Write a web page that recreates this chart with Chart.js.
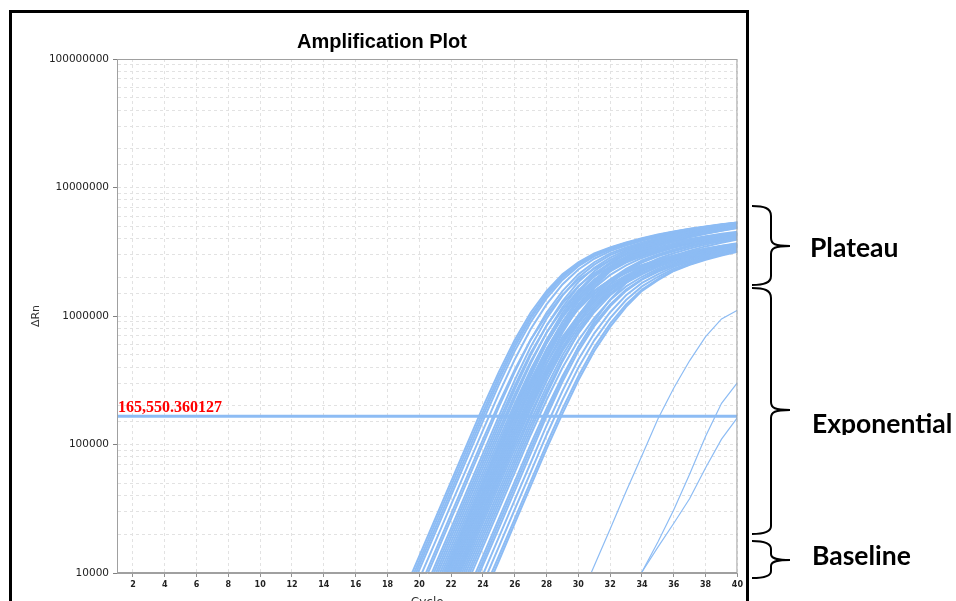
<!DOCTYPE html>
<html>
<head>
<meta charset="utf-8">
<title>Amplification Plot</title>
<script src="https://cdn.jsdelivr.net/npm/chart.js@4.4.1/dist/chart.umd.min.js"></script>
<style>
  html, body { margin: 0; padding: 0; background: #fff; width: 956px; height: 601px; overflow: hidden; }
  #frame { position: absolute; left: 9px; top: 10px; width: 734px; height: 640px; border: 3px solid #000; background: #fff; }
  #plot { display: block; }
  #notes { position: absolute; left: 0; top: 0; }
</style>
</head>
<body>
<div id="frame"><canvas id="plot" width="734" height="601"></canvas></div>

<svg id="notes" width="956" height="601" xmlns="http://www.w3.org/2000/svg">
  <defs>
    <clipPath id="cutExp"><rect x="800" y="380" width="156" height="55"/></clipPath>
  </defs>
  <g fill="none" stroke="#000" stroke-width="2">
    <path d="M752 206 C764 206 771 208 771 216 L771 238 C771 244 775 246 790 246 C775 246 771 248 771 254 L771 276 C771 283 764 285 752 285"/>
    <path d="M752 288 C764 288 771 290 771 298 L771 402 C771 408 775 410 790 410 C775 410 771 412 771 418 L771 526 C771 532 764 534 752 534"/>
    <path d="M752 541 C764 541 771 543 771 549 L771 554 C771 558 775 560 790 560 C775 560 771 562 771 566 L771 571 C771 576 764 578 752 578"/>
  </g>
  <g font-family="Lato" font-weight="bold" font-size="26.5" fill="#000">
    <text x="810" y="257">Plateau</text>
    <text x="812" y="433" clip-path="url(#cutExp)">Exponential</text>
    <text x="812" y="565">Baseline</text>
  </g>
</svg>

<script>
// ----------------------------
// data
// ----------------------------

const cycles = [19, 20, 21, 22, 23, 24, 25, 26, 27, 28, 29, 30, 31, 32, 33, 34, 35, 36, 37, 38, 39, 40];

const xTicks = [2, 4, 6, 8, 10, 12, 14, 16, 18, 20, 22, 24, 26, 28, 30, 32, 34, 36, 38, 40];
const yTickLabels = [10000, 100000, 1000000, 10000000, 100000000];

const threshold = 165550.360127;
const thresholdLabel = "165,550.360127";

// wells with Ct about 23.7 - 25.1
const earlyCurves = [
  [6970, 13500, 26400, 51500, 100300, 195000, 366000, 652000, 1060000, 1560000, 2110000, 2620000, 3070000, 3420000, 3740000, 4030000, 4300000, 4550000, 4780000, 4980000, 5180000, 5350000],
  [6420, 12400, 24300, 47400, 92400, 179000, 340000, 612000, 1000000, 1500000, 2050000, 2560000, 3020000, 3380000, 3700000, 4000000, 4270000, 4520000, 4750000, 4960000, 5150000, 5330000],
  [5870, 11500, 22300, 43600, 84900, 165600, 316000, 574000, 953000, 1440000, 1990000, 2510000, 2980000, 3340000, 3660000, 3960000, 4240000, 4490000, 4720000, 4930000, 5130000, 5310000],
  [5400, 10600, 20500, 40100, 78100, 152000, 291000, 533000, 894000, 1370000, 1910000, 2440000, 2910000, 3290000, 3620000, 3920000, 4200000, 4460000, 4690000, 4900000, 5100000, 5280000],
  [4570, 8960, 17400, 34000, 66100, 129000, 248000, 459000, 788000, 1230000, 1760000, 2300000, 2790000, 3200000, 3540000, 3850000, 4130000, 4390000, 4630000, 4850000, 5050000, 5240000],
  [3870, 7580, 14700, 28700, 55900, 109000, 208000, 382000, 652000, 1010000, 1460000, 1920000, 2330000, 2710000, 3010000, 3280000, 3540000, 3770000, 3980000, 4180000, 4360000, 4530000],
  [3560, 6970, 13500, 26400, 51500, 100300, 195000, 366000, 652000, 1060000, 1560000, 2110000, 2620000, 3070000, 3420000, 3740000, 4030000, 4300000, 4550000, 4780000, 4980000, 5180000],
  [3010, 5870, 11500, 22300, 43600, 84900, 165600, 316000, 574000, 953000, 1440000, 1990000, 2510000, 2980000, 3340000, 3660000, 3960000, 4240000, 4490000, 4720000, 4930000, 5130000],
  [2770, 5400, 10600, 20500, 40100, 78100, 152000, 287000, 515000, 840000, 1250000, 1710000, 2150000, 2530000, 2870000, 3150000, 3410000, 3660000, 3880000, 4090000, 4270000, 4440000]
];

// the dense group, Ct about 25.2 - 27.1
const denseCurves = [
  [2550, 4970, 9700, 18900, 36900, 71800, 140000, 269000, 494000, 839000, 1300000, 1840000, 2370000, 2850000, 3250000, 3580000, 3890000, 4170000, 4430000, 4660000, 4880000, 5080000],
  [2340, 4570, 8960, 17400, 34000, 66100, 129000, 245000, 443000, 741000, 1120000, 1580000, 2030000, 2430000, 2790000, 3080000, 3350000, 3600000, 3820000, 4030000, 4220000, 4400000],
  [2160, 4200, 8200, 16000, 31200, 60800, 118600, 229000, 426000, 740000, 1170000, 1690000, 2230000, 2730000, 3160000, 3500000, 3810000, 4100000, 4360000, 4600000, 4830000, 5030000],
  [1980, 3870, 7580, 14700, 28700, 55900, 109000, 208000, 382000, 652000, 1010000, 1460000, 1920000, 2330000, 2710000, 3010000, 3280000, 3540000, 3770000, 3980000, 4180000, 4360000],
  [1820, 3560, 6970, 13500, 26400, 51500, 100300, 195000, 366000, 652000, 1060000, 1560000, 2110000, 2620000, 3070000, 3420000, 3740000, 4030000, 4300000, 4550000, 4780000, 4980000],
  [1820, 3560, 6970, 13500, 26400, 51500, 100300, 192000, 354000, 613000, 969000, 1400000, 1860000, 2280000, 2670000, 2980000, 3260000, 3510000, 3750000, 3960000, 4160000, 4340000],
  [1680, 3280, 6420, 12400, 24300, 47400, 92400, 174000, 316000, 535000, 823000, 1180000, 1570000, 1900000, 2240000, 2500000, 2740000, 2960000, 3160000, 3350000, 3520000, 3680000],
  [1680, 3280, 6420, 12400, 24300, 47400, 92400, 179000, 340000, 612000, 1000000, 1500000, 2050000, 2560000, 3020000, 3380000, 3700000, 4000000, 4270000, 4520000, 4750000, 4960000],
  [1550, 3010, 5870, 11500, 22300, 43600, 84900, 165600, 312000, 554000, 896000, 1320000, 1780000, 2220000, 2600000, 2910000, 3190000, 3450000, 3690000, 3910000, 4110000, 4290000],
  [1550, 3010, 5870, 11500, 22300, 43600, 84900, 165600, 307000, 533000, 833000, 1190000, 1570000, 1920000, 2210000, 2470000, 2710000, 2930000, 3140000, 3330000, 3500000, 3650000],
  [1430, 2770, 5400, 10600, 20500, 40100, 78100, 152000, 291000, 533000, 894000, 1370000, 1910000, 2440000, 2910000, 3290000, 3620000, 3920000, 4200000, 4460000, 4690000, 4900000],
  [1430, 2770, 5400, 10600, 20500, 40100, 78100, 152000, 282000, 495000, 781000, 1130000, 1500000, 1860000, 2160000, 2440000, 2680000, 2900000, 3110000, 3300000, 3480000, 3630000],
  [1310, 2550, 4970, 9700, 18900, 36900, 71800, 140000, 265000, 477000, 789000, 1190000, 1650000, 2090000, 2480000, 2830000, 3120000, 3390000, 3630000, 3860000, 4060000, 4250000],
  [1310, 2550, 4970, 9700, 18900, 36900, 71800, 140000, 269000, 494000, 839000, 1300000, 1840000, 2370000, 2850000, 3250000, 3580000, 3890000, 4170000, 4430000, 4660000, 4880000],
  [1210, 2340, 4570, 8960, 17400, 34000, 66100, 129000, 241000, 426000, 689000, 1010000, 1390000, 1760000, 2070000, 2370000, 2620000, 2850000, 3060000, 3250000, 3430000, 3590000],
  [1210, 2340, 4570, 8960, 17400, 34000, 66100, 129000, 248000, 459000, 788000, 1230000, 1760000, 2300000, 2790000, 3200000, 3540000, 3850000, 4130000, 4390000, 4630000, 4850000],
  [1110, 2160, 4200, 8200, 16000, 31200, 60800, 118600, 229000, 426000, 740000, 1170000, 1690000, 2230000, 2730000, 3160000, 3500000, 3810000, 4100000, 4360000, 4600000, 4830000],
  [1110, 2160, 4200, 8200, 16000, 31200, 60800, 118600, 222000, 395000, 647000, 963000, 1330000, 1700000, 2020000, 2340000, 2590000, 2820000, 3040000, 3230000, 3410000, 3580000],
  [1020, 1980, 3870, 7580, 14700, 28700, 55900, 109000, 208000, 382000, 652000, 1010000, 1460000, 1920000, 2330000, 2710000, 3010000, 3280000, 3540000, 3770000, 3980000, 4180000],
  [1020, 1980, 3870, 7580, 14700, 28700, 55900, 109000, 205000, 367000, 607000, 914000, 1280000, 1660000, 1980000, 2300000, 2560000, 2790000, 3010000, 3210000, 3390000, 3560000],
  [939, 1820, 3560, 6970, 13500, 26400, 51500, 100300, 192000, 354000, 613000, 969000, 1400000, 1860000, 2280000, 2670000, 2980000, 3260000, 3510000, 3750000, 3960000, 4160000],
  [939, 1820, 3560, 6970, 13500, 26400, 51500, 100300, 189000, 340000, 570000, 872000, 1230000, 1610000, 1940000, 2270000, 2530000, 2770000, 2990000, 3190000, 3370000, 3540000],
  [865, 1680, 3280, 6420, 12400, 24300, 47400, 92400, 174000, 316000, 535000, 823000, 1180000, 1570000, 1900000, 2240000, 2500000, 2740000, 2960000, 3160000, 3350000, 3520000],
  [792, 1550, 3010, 5870, 11500, 22300, 43600, 84900, 165600, 312000, 554000, 896000, 1320000, 1780000, 2220000, 2600000, 2910000, 3190000, 3450000, 3690000, 3910000, 4110000],
  [729, 1430, 2770, 5400, 10600, 20500, 40100, 78100, 152000, 282000, 495000, 781000, 1130000, 1500000, 1860000, 2160000, 2440000, 2680000, 2900000, 3110000, 3300000, 3480000]
];

// later wells, Ct about 27.2 - 28.9
const lateCurves = [
  [670, 1310, 2550, 4970, 9700, 18900, 36900, 71800, 140000, 261000, 458000, 733000, 1070000, 1450000, 1810000, 2110000, 2410000, 2650000, 2880000, 3090000, 3280000, 3450000],
  [617, 1210, 2340, 4570, 8960, 17400, 34000, 66100, 129000, 245000, 443000, 741000, 1120000, 1580000, 2030000, 2430000, 2790000, 3080000, 3350000, 3600000, 3820000, 4030000],
  [567, 1110, 2160, 4200, 8200, 16000, 31200, 60800, 118600, 222000, 395000, 647000, 963000, 1330000, 1700000, 2020000, 2340000, 2590000, 2820000, 3040000, 3230000, 3410000],
  [480, 939, 1820, 3560, 6970, 13500, 26400, 51500, 100300, 189000, 340000, 570000, 872000, 1230000, 1610000, 1940000, 2270000, 2530000, 2770000, 2990000, 3190000, 3370000],
  [442, 865, 1680, 3280, 6420, 12400, 24300, 47400, 92400, 176000, 328000, 575000, 914000, 1340000, 1810000, 2230000, 2630000, 2940000, 3220000, 3480000, 3720000, 3940000],
  [406, 792, 1550, 3010, 5870, 11500, 22300, 43600, 84900, 165600, 307000, 533000, 833000, 1190000, 1570000, 1920000, 2210000, 2470000, 2710000, 2930000, 3140000, 3330000],
  [343, 670, 1310, 2550, 4970, 9700, 18900, 36900, 71800, 140000, 261000, 458000, 733000, 1070000, 1450000, 1810000, 2110000, 2410000, 2650000, 2880000, 3090000, 3280000],
  [291, 567, 1110, 2160, 4200, 8200, 16000, 31200, 60800, 118600, 222000, 395000, 647000, 963000, 1330000, 1700000, 2020000, 2340000, 2590000, 2820000, 3040000, 3230000],
  [246, 480, 939, 1820, 3560, 6970, 13500, 26400, 51500, 100300, 189000, 340000, 570000, 872000, 1230000, 1610000, 1940000, 2270000, 2530000, 2770000, 2990000, 3190000],
  [227, 442, 865, 1680, 3280, 6420, 12400, 24300, 47400, 92400, 174000, 316000, 535000, 823000, 1180000, 1570000, 1900000, 2240000, 2500000, 2740000, 2960000, 3160000]
];

// three wells that only come up at the end of the run
const slowCurves = [
  [null, null, null, null, null, null, null, null, null, null, null, 5900, 11400, 22000, 43000, 82000, 158000, 275000, 450000, 690000, 950000, 1110000],
  [null, null, null, null, null, null, null, null, null, null, null, null, null, null, 3000, 10200, 17400, 31000, 59000, 116000, 209000, 303000],
  [null, null, null, null, null, null, null, null, null, null, null, null, null, null, 3000, 10200, 15900, 24400, 38000, 66000, 110000, 162000]
];

// ----------------------------
// chart
// ----------------------------

const blue = "#8dbcf4";

function curve(values, width) {
  return {
    data: cycles.map((c, i) => ({ x: c, y: values[i] })),
    borderColor: blue,
    borderWidth: width,
    pointRadius: 0,
    fill: false,
    clip: 0
  };
}

const datasets = [{
  data: [{ x: 1, y: threshold }, { x: 40, y: threshold }],
  borderColor: blue,
  borderWidth: 3,
  pointRadius: 0,
  clip: 0
}];

earlyCurves.forEach(v => datasets.push(curve(v, 2)));
denseCurves.forEach(v => datasets.push(curve(v, 2)));
lateCurves.forEach(v => datasets.push(curve(v, 2)));
slowCurves.forEach(v => datasets.push(curve(v, 1.2)));

// plot frame + threshold value
const frameAndLabel = {
  id: "frameAndLabel",
  afterDatasetsDraw(chart) {
    const { ctx, chartArea: a, scales } = chart;
    ctx.save();
    ctx.strokeStyle = "#a0a0a0";
    ctx.lineWidth = 1;
    ctx.strokeRect(a.left + 0.5, a.top + 0.5, a.right - a.left - 1, a.bottom - a.top - 1);
    ctx.fillStyle = "#ff0000";
    ctx.font = "bold 16px 'Liberation Serif'";
    ctx.textBaseline = "alphabetic";
    ctx.fillText(thresholdLabel, a.left + 1, scales.y.getPixelForValue(threshold) - 4);
    ctx.restore();
  }
};

Chart.defaults.font.family = "'DejaVu Sans'";
Chart.defaults.color = "#333";

new Chart(document.getElementById("plot"), {
  type: "line",
  data: { datasets },
  options: {
    responsive: false,
    animation: false,
    events: [],
    layout: { padding: { left: 14, right: 8, top: 0, bottom: 0 } },
    plugins: {
      legend: { display: false },
      tooltip: { enabled: false },
      title: {
        display: true,
        text: "Amplification Plot",
        color: "#000",
        font: { family: "'Liberation Sans'", size: 20, weight: "bold" },
        padding: { top: 17, bottom: 5 }
      }
    },
    scales: {
      x: {
        type: "linear",
        min: 1,
        max: 40,
        afterBuildTicks: scale => { scale.ticks = xTicks.map(v => ({ value: v })); },
        afterFit: scale => { scale.height = 41; },
        ticks: { autoSkip: false, maxRotation: 0, padding: 3, font: { size: 8, weight: "bold" }, color: "#222" },
        grid: { color: "#e2e2e2", tickColor: "#909090", tickLength: 4 },
        border: { color: "#a0a0a0", dash: [3, 3] },
        title: { display: true, text: "Cycle", font: { size: 12 }, color: "#333", padding: { top: 4, bottom: 4 } }
      },
      y: {
        type: "logarithmic",
        min: 10000,
        max: 100000000,
        afterFit: scale => { scale.width = 91; },
        ticks: {
          autoSkip: false,
          padding: 4,
          font: { size: 10.5 },
          color: "#222",
          callback: v => (yTickLabels.includes(v) ? String(v) : "")
        },
        grid: {
          color: "#e2e2e2",
          tickLength: 4,
          tickColor: c => (c.tick && yTickLabels.includes(c.tick.value) ? "#808080" : "rgba(0,0,0,0)")
        },
        border: { color: "#a0a0a0", dash: [3, 3] },
        title: { display: true, text: "ΔRn", font: { size: 11 }, color: "#333", padding: { top: 4, bottom: 4 } }
      }
    }
  },
  plugins: [frameAndLabel]
});
</script>
</body>
</html>
